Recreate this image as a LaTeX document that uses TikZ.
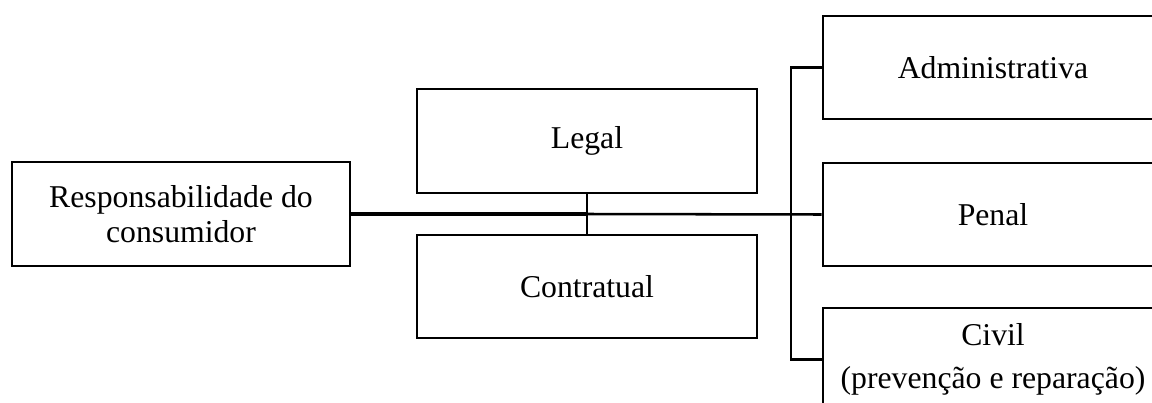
\documentclass[tikz,border=0pt]{standalone}
\usepackage{fontspec}
\setmainfont{Liberation Serif}
\begin{document}
\begin{tikzpicture}[x=0.75pt,y=-0.75pt,
  box/.style={draw=black,line width=1.9pt,rectangle,inner sep=0pt,align=center,
    font=\fontsize{23.8pt}{26.3pt}\selectfont},
  conn/.style={draw=black,line width=1.9pt},
  thickconn/.style={draw=black,line width=2.6pt}]
\useasboundingbox (0,0) rectangle (1152,403);
\clip (0,0) rectangle (1152,403);
% left box
\node[box,minimum width=338*0.75pt,minimum height=104*0.75pt] (resp) at (181,214)
  {Responsabilidade do\\consumidor};
% middle boxes
\node[box,minimum width=340*0.75pt,minimum height=104*0.75pt] (legal) at (587,141) {Legal};
\node[box,minimum width=340*0.75pt,minimum height=103*0.75pt] (contr) at (587,286.5) {Contratual};
% right boxes
\node[box,minimum width=340*0.75pt,minimum height=103*0.75pt] (admin) at (993,67.5) {Administrativa};
\node[box,minimum width=340*0.75pt,minimum height=103*0.75pt] (penal) at (993,214.5) {Penal};
\node[box,minimum width=340*0.75pt,minimum height=103*0.75pt,
  font=\fontsize{23.8pt}{32.25pt}\selectfont] (civil) at (993,359.5)
  {Civil\\(prevenção e reparação)};
% junctions
\coordinate (j1) at (587,214);
\coordinate (bx) at (791,214);
% connectors
\draw[thickconn] (resp.east) -- (j1);
\draw[conn] (legal.south) -- (contr.north);
\draw[conn] (j1) -- (penal.west);
\draw[conn] (admin.west) -| (bx) |- (civil.west);
\end{tikzpicture}
\end{document}
